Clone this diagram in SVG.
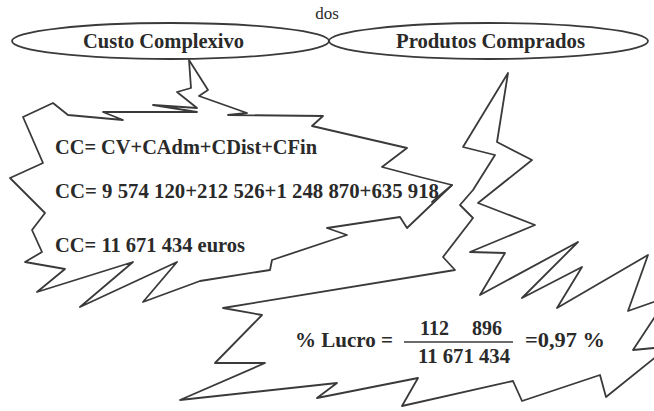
<svg xmlns="http://www.w3.org/2000/svg" width="654" height="411" viewBox="0 0 654 411">
<style>
.sh{fill:none;stroke:#3a3a3a;stroke-width:1.8;stroke-linejoin:round;stroke-linecap:round}
text{font-family:'Liberation Serif','Times New Roman',serif;fill:#2a2a2a}
.t{font-weight:bold;font-size:20px}
.el{font-weight:bold;font-size:20px}
.dos{font-size:17px;text-anchor:middle}
</style>
<rect width="654" height="411" fill="#ffffff"/>
<g id="callout1">
<polygon class="sh" points="189,60 208,90 199,96 247,113 228,115 323,116 312,126 407,148 382,167 420,177 452,185 407,228 400,217 327,228 347,235 272,260 270,270 200,281 143,302 177,262 80,307 133,262 37,292 65,269 25,262 42,252 32,230 45,213 10,178 43,163 23,117 53,103 68,115 123,120 103,112 197,112 153,105 197,108 177,92 191,88"/>
<line class="sh" x1="432" y1="202" x2="452" y2="185"/>
<text class="t" x="55" y="154" textLength="262" lengthAdjust="spacingAndGlyphs">CC= CV+CAdm+CDist+CFin</text>
<text class="t" x="55" y="198" textLength="384" lengthAdjust="spacingAndGlyphs">CC= 9 574 120+212 526+1 248 870+635 918</text>
<text class="t" x="55" y="252" textLength="190" lengthAdjust="spacingAndGlyphs">CC= 11 671 434 euros</text>
</g>
<g id="callout2">
<polygon class="sh" points="508,73 497,142 532,160 478,203 535,225 470,252 505,253 480,295 578,242 522,298 582,267 557,308 648,255 628,311 668,297 633,350 654,348 668,347 606,397 600,375 522,401 513,381 402,406 418,378 317,398 337,383 180,400 265,363 215,363 262,315 223,308 455,270 443,257 473,218 460,205 473,190 495,155 463,147"/>
<text class="t" x="295" y="347" textLength="98" lengthAdjust="spacingAndGlyphs">% Lucro =</text>
<text class="t" x="420" y="335">112</text>
<text class="t" x="472" y="335">896</text>
<line x1="404" y1="342" x2="513" y2="342" stroke="#3a3a3a" stroke-width="1.6"/>
<text class="t" x="418" y="363" textLength="92" lengthAdjust="spacingAndGlyphs">11 671 434</text>
<text class="t" x="525" y="347" textLength="80" lengthAdjust="spacingAndGlyphs">=0,97 %</text>
</g>
<g id="node-custo">
<ellipse class="sh" cx="170.5" cy="41" rx="158.5" ry="18"/>
<text class="el" x="83" y="48" textLength="161" lengthAdjust="spacingAndGlyphs">Custo Complexivo</text>
</g>
<g id="node-produtos">
<ellipse class="sh" cx="488.5" cy="41" rx="159.5" ry="18"/>
<text class="el" x="396" y="48" textLength="189" lengthAdjust="spacingAndGlyphs">Produtos Comprados</text>
</g>
<g id="label-dos">
<text class="dos" x="327" y="19">dos</text>
</g>
<g id="connectors"/>
</svg>
